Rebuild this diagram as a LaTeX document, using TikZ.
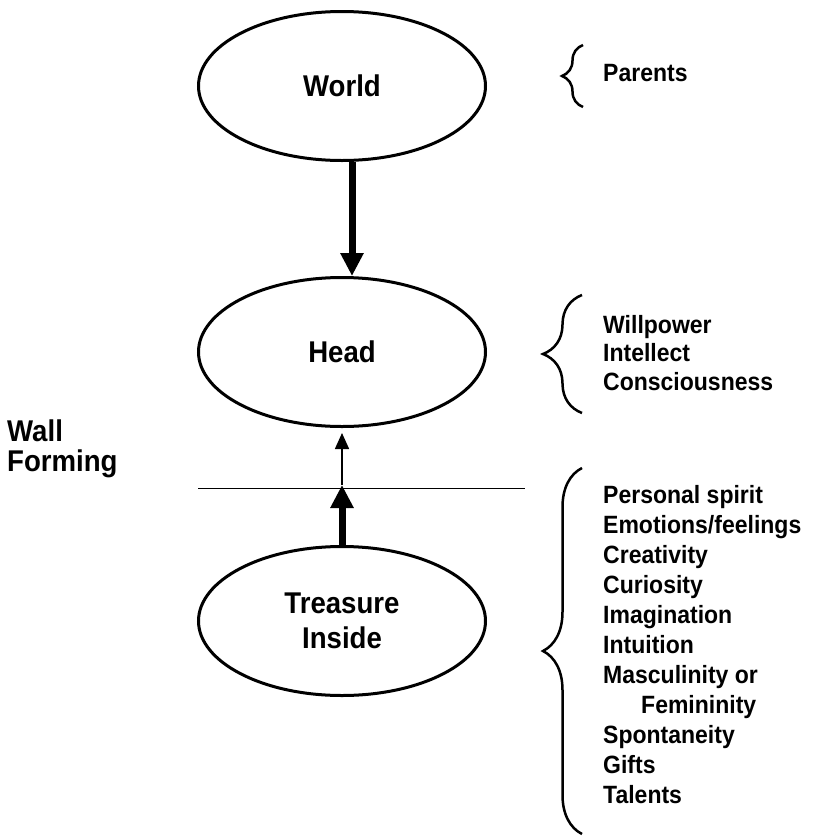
\documentclass[tikz,border=0pt]{standalone}
\usepackage{fontspec}
\setmainfont{Liberation Sans}[FakeStretch=0.92]
\usepackage{tikz}
\usetikzlibrary{shapes.geometric,arrows.meta,decorations.pathreplacing}

\tikzset{
    oval/.style={ellipse, draw, line width=3pt, minimum width=287pt, minimum height=149pt,
        inner sep=0pt, align=center, font=\fontsize{30pt}{35pt}\selectfont\bfseries},
    listtext/.style={anchor=north west, inner sep=0pt, align=left,
        font=\fontsize{25pt}{30pt}\selectfont\bfseries},
    bigarrow/.style={line width=7pt, -{Triangle[width=22pt,length=23pt]}},
    thinarrow/.style={line width=1.5pt, -{Triangle[width=14pt,length=16pt]}},
    curly/.style={line width=2.5pt, decorate, decoration={brace, amplitude=#1}}
}

\begin{document}
\begin{tikzpicture}[x=1pt,y=-1pt]
        \useasboundingbox (0,0) rectangle (816,836);
        % the three ovals
        \node[oval] (world) at (342,86) {World};
        \node[oval] (head) at (342,352) {Head};
        \node[oval] (treasure) at (342,621) {Treasure\\Inside};
        % the wall
        \coordinate (wallL) at (198,488);
        \coordinate (wallR) at (525,488);
        \coordinate (wallmid) at (342,485);
        \draw[line width=1pt] (wallL) -- (wallR);
        \node[anchor=north west, inner sep=0pt, align=left,
            font=\fontsize{30pt}{30pt}\selectfont\bfseries] (wall) at (7,420) {Wall\\Forming};
        % arrows
        \draw[bigarrow] ([xshift=10pt]world.south) -- ([xshift=10pt]head.north);
        \draw[bigarrow] (treasure.north) -- (wallmid);
        \draw[thinarrow, shorten >=5pt] (wallmid) -- (head.south);
        % braces and lists
        \coordinate (parB) at (583,107);
        \coordinate (parT) at (583,45);
        \coordinate (headB) at (582,413);
        \coordinate (headT) at (582,295);
        \coordinate (treB) at (582,834);
        \coordinate (treT) at (582,468);
        \draw[curly=21pt] (parB) -- (parT);
        \draw[curly=39pt] (headB) -- (headT);
        \draw[curly=39pt] (treB) -- (treT);
        \node[listtext] (parents) at (603,64) {Parents};
        \node[listtext, font=\fontsize{25pt}{28.5pt}\selectfont\bfseries] (mind) at (603,315)
            {Willpower\\Intellect\\Consciousness};
        \node[listtext] (inside) at (603,485)
            {Personal spirit\\Emotions/feelings\\Creativity\\Curiosity\\Imagination\\Intuition\\
             Masculinity or\\\hspace*{38pt}Femininity\\Spontaneity\\Gifts\\Talents};
    \end{tikzpicture}
\end{document}
